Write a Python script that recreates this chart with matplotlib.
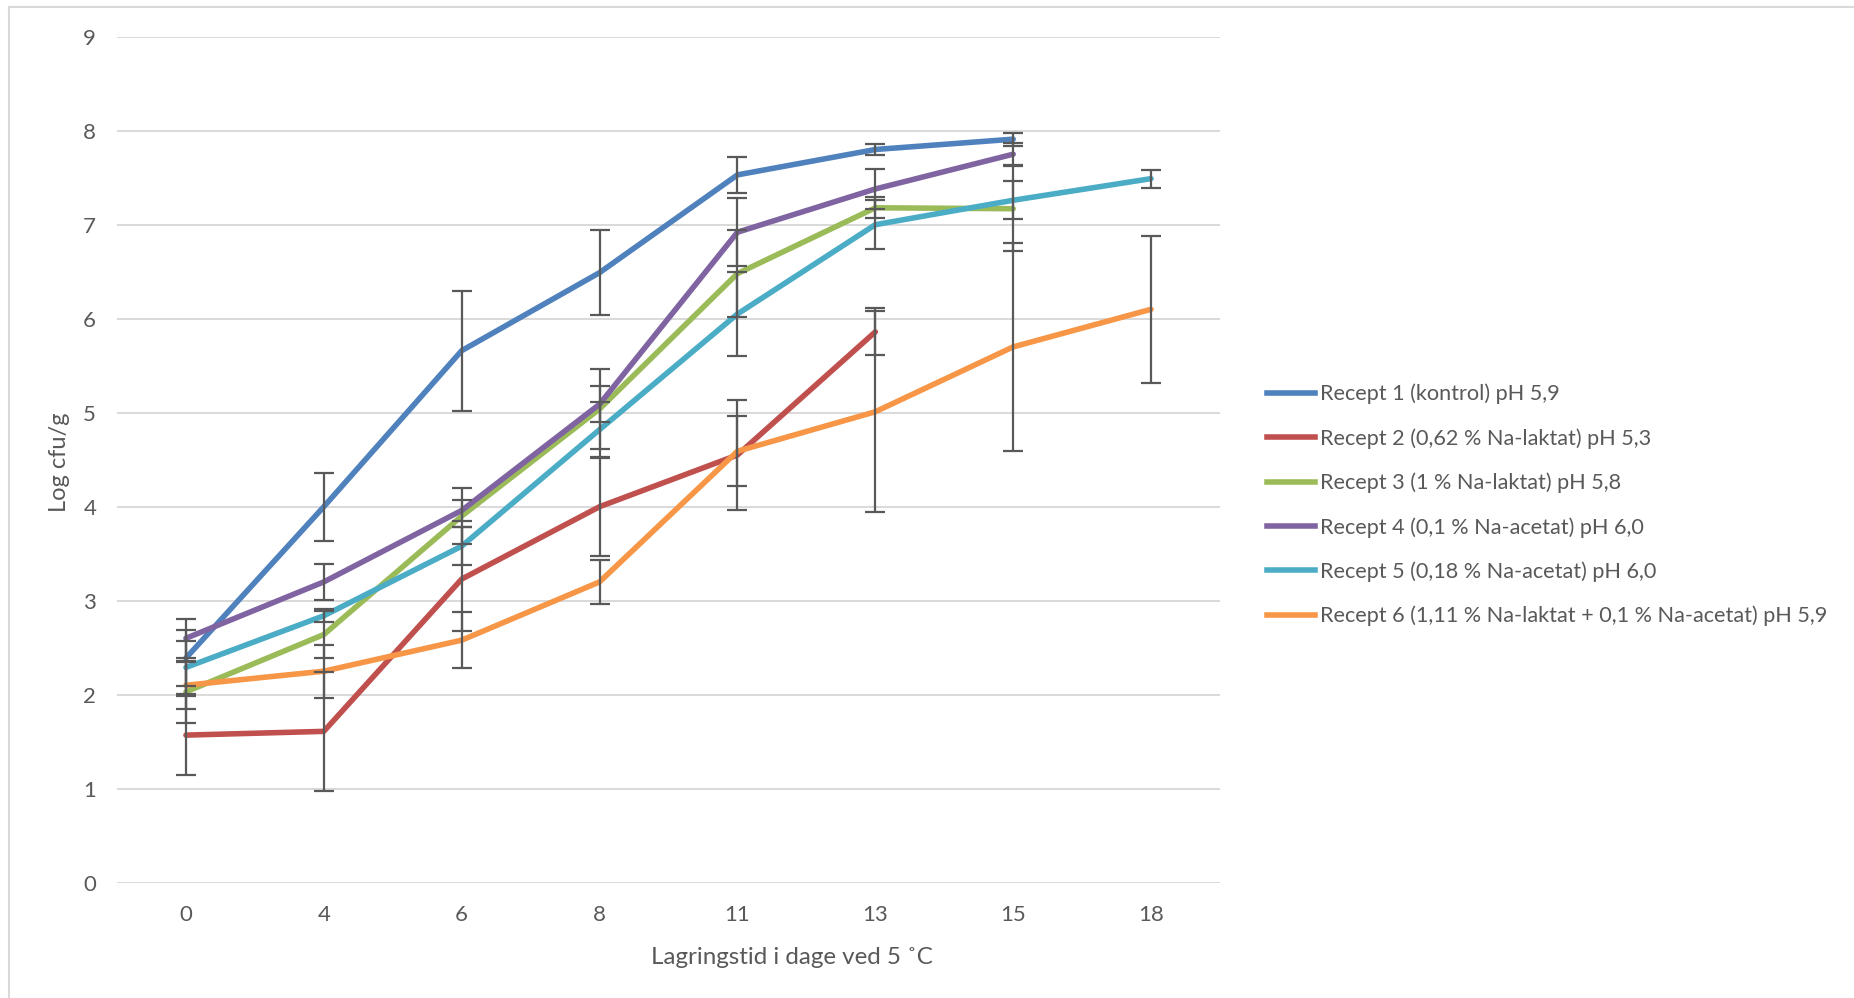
import numpy as np
import matplotlib
matplotlib.use("Agg")
import matplotlib.pyplot as plt
from matplotlib.lines import Line2D

plt.rcParams['font.family'] = ['Lato', 'DejaVu Sans']

# Storage days (categorical x axis)
days = ["0", "4", "6", "8", "11", "13", "15", "18"]

labels = [
    "Recept 1 (kontrol) pH 5,9",
    "Recept 2 (0,62 % Na-laktat) pH 5,3",
    "Recept 3 (1 % Na-laktat) pH 5,8",
    "Recept 4 (0,1 % Na-acetat) pH 6,0",
    "Recept 5 (0,18 % Na-acetat) pH 6,0",
    "Recept 6 (1,11 % Na-laktat + 0,1 % Na-acetat) pH 5,9",
]

nan = np.nan
# Mean log cfu/g per recipe
recept1 = [2.39, 4.00, 5.66, 6.49, 7.53, 7.80, 7.91, nan]
recept2 = [1.57, 1.61, 3.23, 4.00, 4.55, 5.86, nan, nan]
recept3 = [2.03, 2.64, 3.90, 5.04, 6.48, 7.18, 7.17, nan]
recept4 = [2.60, 3.20, 3.96, 5.09, 6.92, 7.38, 7.75, nan]
recept5 = [2.29, 2.84, 3.58, 4.82, 6.05, 7.00, 7.26, 7.49]
recept6 = [2.10, 2.25, 2.58, 3.20, 4.59, 5.01, 5.70, 6.10]

# Standard deviations (error bars)
sd1 = [0.30, 0.36, 0.64, 0.45, 0.19, 0.055, 0.07, nan]
sd2 = [0.42, 0.63, 0.55, 0.52, 0.58, 0.25, nan, nan]
sd3 = [0.33, 0.25, 0.30, 0.43, 0.46, 0.11, 0.45, nan]
sd4 = [0.21, 0.19, 0.11, 0.19, 0.36, 0.21, 0.12, nan]
sd5 = [0.28, 0.07, 0.20, 0.29, 0.45, 0.26, 0.20, 0.095]
sd6 = [0.25, 0.28, 0.30, 0.23, 0.37, 1.07, 1.11, 0.78]

series = [recept1, recept2, recept3, recept4, recept5, recept6]
errors = [sd1, sd2, sd3, sd4, sd5, sd6]
colors = ["#4F81BD", "#C0504D", "#9BBB59", "#8064A2", "#4BACC6", "#F79646"]

W, H = 1854, 998
fig = plt.figure(figsize=(W / 100, H / 100), dpi=100)
ax = fig.add_axes([117 / W, 1 - 882.7 / H, (1220 - 117) / W, (882.7 - 36.7) / H])

x = np.arange(len(days)) + 0.5
for vals, err in zip(series, errors):
    v = np.array(vals, dtype=float)
    e = np.array(err, dtype=float)
    ax.errorbar(x, v, yerr=e, fmt="none", ecolor="#595959", elinewidth=1.6,
                capsize=7, capthick=1.6, zorder=3)
for vals, col, lab in zip(series, colors, labels):
    v = np.array(vals, dtype=float)
    ax.plot(x, v, color=col, lw=4.0, solid_capstyle="round",
            solid_joinstyle="round", label=lab, zorder=2)

ax.set_xlim(0, len(days))
ax.set_ylim(0, 9)
ax.set_yticks(range(0, 10))
ax.set_xticks(x)
ax.set_xticklabels(days)
ax.grid(axis="y", color="#D9D9D9", lw=1.4, zorder=0)
ax.set_axisbelow(True)
for s in ax.spines.values():
    s.set_visible(False)
ax.tick_params(axis="both", length=0, labelsize=16, labelcolor="#595959")
ax.tick_params(axis="y", pad=15)
ax.tick_params(axis="x", pad=16)

fig.text(59 / W, 1 - 462 / H, "Log cfu/g", rotation=90, ha="center", va="center",
         fontsize=17, color="#595959")
fig.text(792 / W, 1 - 958 / H, "Lagringstid i dage ved 5 \u02daC", ha="center",
         va="center", fontsize=17.4, color="#595959")

handles = [Line2D([], [], color=c, lw=4.0) for c in colors]
fig.legend(handles, labels, loc="center left",
           bbox_to_anchor=(1247 / W, 1 - 505 / H), frameon=False,
           fontsize=15.6, labelcolor="#595959", handlelength=2.25,
           handletextpad=0.2, labelspacing=1.1)

# Outer chart-area border (left and top edges)
fig.add_artist(Line2D([9 / W, 9 / W], [0, 1 - 7 / H], transform=fig.transFigure,
                      color="#D9D9D9", lw=1.5))
fig.add_artist(Line2D([9 / W, 1], [1 - 7 / H, 1 - 7 / H], transform=fig.transFigure,
                      color="#D9D9D9", lw=1.5))

fig.savefig("out.png", dpi=100, facecolor="white")
